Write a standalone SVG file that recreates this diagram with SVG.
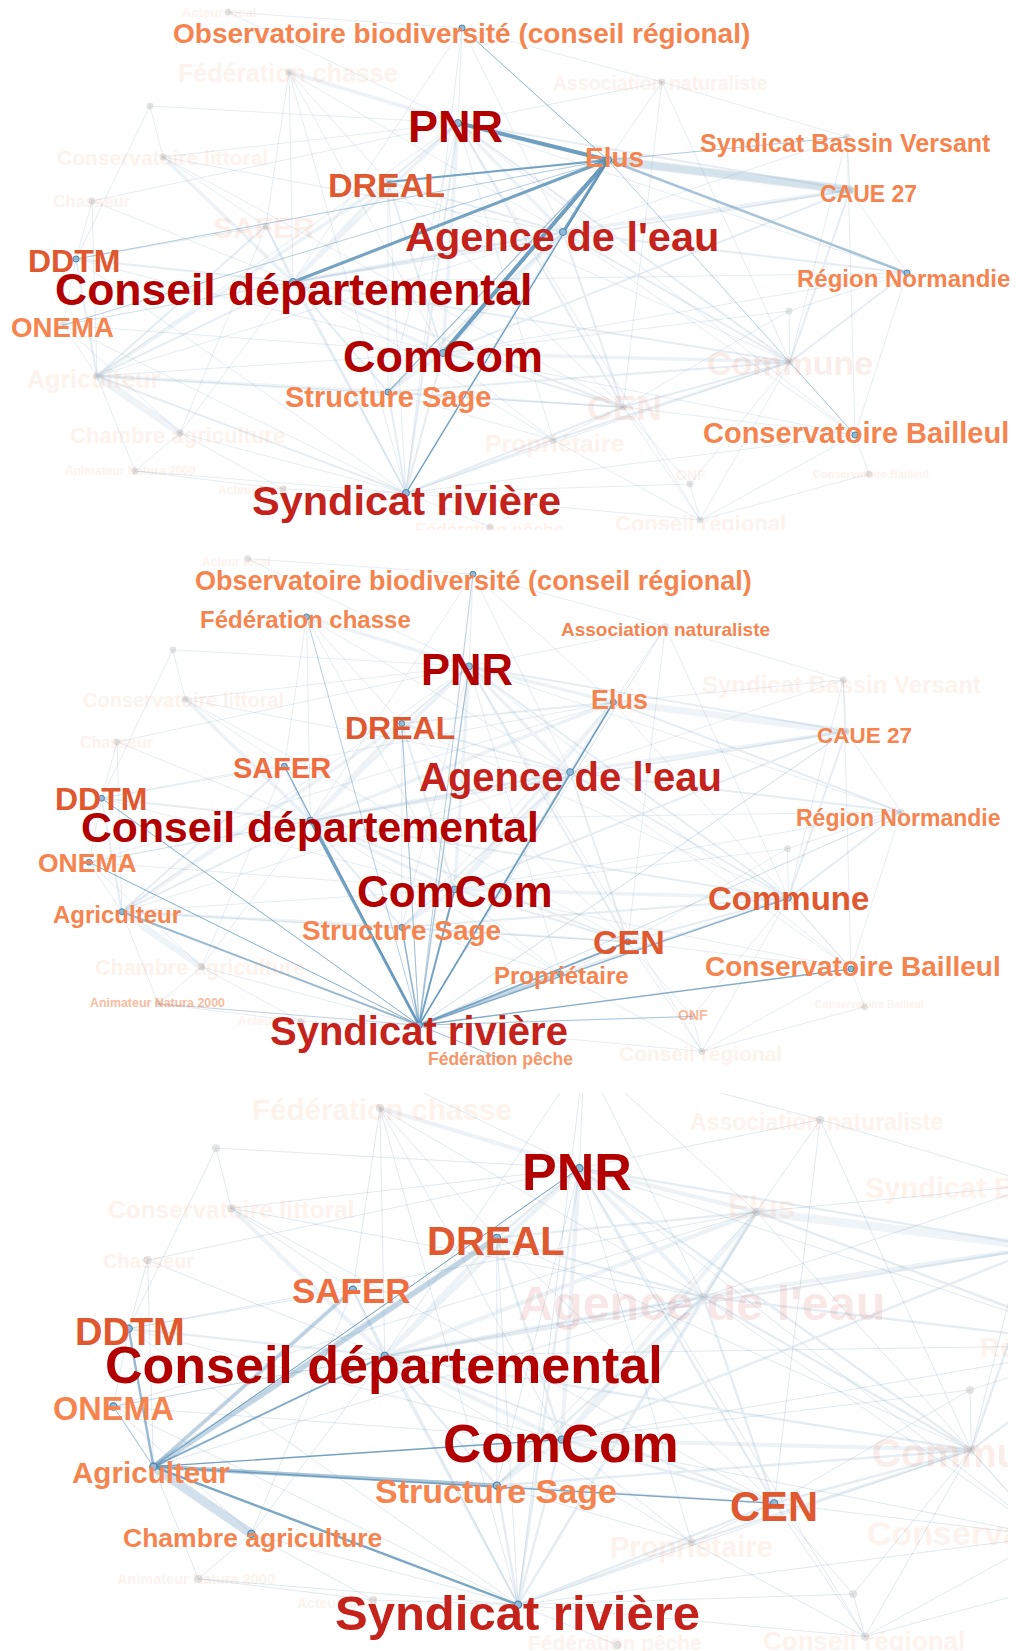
<svg xmlns="http://www.w3.org/2000/svg" xmlns:xlink="http://www.w3.org/1999/xlink" width="1027" height="1651" viewBox="0 0 1027 1651">
<style>
text{font-family:"Liberation Sans",Arial,Helvetica,sans-serif;font-weight:bold}
.o{fill:#f5844f}.s{fill:#ef6d3f}.ro{fill:#e0582f}.r{fill:#c4221b}.dr{fill:#b20000}
.f{opacity:.1}.m{opacity:.55}
.w path{fill:none;stroke:#7fa7c4;stroke-linecap:round}
.e path{fill:none;stroke:#5890b6;stroke-linecap:round}
.nd circle{fill:#c4c4c4;opacity:.45}
.hn circle{fill:#8fbad8;stroke:#4f87ad;stroke-width:1}
</style>
<defs>
<clipPath id="c1"><rect x="0" y="0" width="1027" height="530"/></clipPath>
<clipPath id="c2"><rect x="0" y="538" width="1027" height="534"/></clipPath>
<clipPath id="c3"><rect x="0" y="1093" width="1008" height="558"/></clipPath>
<g id="web" class="w">
<path stroke-width=".7" stroke-opacity=".3" d="M228 12L462 28M228 12L458 123M462 28L662 82M462 28L293 282M462 28L406 493M462 28L563 232M150 106L458 123M150 106L76 259M150 106L163 157M662 82L458 123M662 82L847 137M662 82L623 407M662 82L790 362M662 82L608 160M289 72L293 282M289 72L388 182M289 72L266 226M289 72L563 232M289 72L443 353M289 72L406 493M163 157L458 123M163 157L266 226M163 157L563 232M163 157L623 407M92 201L76 259M92 201L458 123M92 201L97 376M92 201L293 282M847 137L790 362M847 137L855 435M847 137L850 190M847 137L563 232M458 123L907 273M458 123L388 392M458 123L553 440M458 123L97 376M458 123L855 435M458 123L700 520M388 182L406 493M388 182L623 407M388 182L388 392M388 182L790 362M850 190L907 273M266 226L76 259M266 226L406 493M266 226L180 433M563 232L855 435M563 232L97 376M563 232L63 325M76 259L406 493M76 259L63 325M76 259L443 353M907 273L443 353M907 273L293 282M907 273L789 311M907 273L855 435M293 282L63 325M293 282L180 433M293 282L553 440M789 311L790 362M789 311L623 407M789 311L443 353M63 325L406 493M63 325L97 376M63 325L443 353M63 325L180 433M443 353L97 376M443 353L553 440M443 353L855 435M790 362L855 435M790 362L406 493M790 362L700 520M790 362L690 484M97 376L623 407M97 376L135 471M388 392L553 440M623 407L553 440M623 407L700 520M623 407L855 435M623 407L690 484M180 433L406 493M180 433L135 471M180 433L283 489M855 435L406 493M855 435L869 474M855 435L700 520M553 440L700 520M135 471L406 493M135 471L283 489M869 474L700 520M690 484L700 520M690 484L406 493M283 489L406 493M406 493L490 527M406 493L700 520M608 160L76 259M608 160L63 325M608 160L388 392M608 160L855 435M608 160L847 137M608 160L462 28M458 123L462 28"/>
<path stroke-width="2" stroke-opacity=".2" d="M458 123L388 182M458 123L623 407M458 123L790 362M458 123L850 190M458 123L406 493M608 160L388 182M608 160L907 273M608 160L406 493M388 182L563 232M388 182L443 353M850 190L790 362M850 190L293 282M850 190L443 353M266 226L293 282M266 226L97 376M563 232L406 493M563 232L790 362M563 232L623 407M563 232L388 392M563 232L907 273M76 259L293 282M76 259L97 376M907 273L790 362M293 282L406 493M293 282L97 376M293 282L388 392M293 282L790 362M293 282L623 407M443 353L406 493M443 353L623 407M790 362L623 407M790 362L388 392M790 362L553 440M97 376L406 493M388 392L406 493M388 392L623 407M623 407L406 493M553 440L406 493"/>
<path stroke-width="3.5" stroke-opacity=".15" d="M289 72L458 123M458 123L563 232M458 123L293 282M458 123L443 353M458 123L608 160M608 160L563 232M608 160L293 282M608 160L443 353M163 157L293 282M388 182L293 282M388 182L97 376M850 190L563 232M563 232L293 282M563 232L443 353M293 282L443 353M443 353L388 392M443 353L790 362M97 376L388 392"/>
<path stroke-width="7" stroke-opacity=".12" d="M608 160L850 190M97 376L180 433"/>
<g class="nd">
<circle cx="228" cy="12" r="3.5"/><circle cx="462" cy="28" r="3.5"/><circle cx="289" cy="72" r="3.5"/><circle cx="662" cy="82" r="3.5"/><circle cx="150" cy="106" r="3.5"/><circle cx="458" cy="123" r="3.5"/><circle cx="847" cy="137" r="3.5"/><circle cx="608" cy="160" r="3.5"/><circle cx="163" cy="157" r="3.5"/><circle cx="92" cy="201" r="3.5"/><circle cx="388" cy="182" r="3.5"/><circle cx="850" cy="190" r="3.5"/><circle cx="266" cy="226" r="3.5"/><circle cx="563" cy="232" r="3.5"/><circle cx="76" cy="259" r="3.5"/><circle cx="907" cy="273" r="3.5"/><circle cx="293" cy="282" r="3.5"/><circle cx="789" cy="311" r="3.5"/><circle cx="63" cy="325" r="3.5"/><circle cx="443" cy="353" r="3.5"/><circle cx="790" cy="362" r="3.5"/><circle cx="97" cy="376" r="3.5"/><circle cx="388" cy="392" r="3.5"/><circle cx="623" cy="407" r="3.5"/><circle cx="180" cy="433" r="3.5"/><circle cx="855" cy="435" r="3.5"/><circle cx="553" cy="440" r="3.5"/><circle cx="135" cy="471" r="3.5"/><circle cx="869" cy="474" r="3.5"/><circle cx="690" cy="484" r="3.5"/><circle cx="283" cy="489" r="3.5"/><circle cx="406" cy="493" r="3.5"/><circle cx="700" cy="520" r="3.5"/><circle cx="490" cy="527" r="3.5"/>
</g>
</g>
</defs>
<rect width="1027" height="1651" fill="#ffffff"/>

<!-- Panel 1 : Elus -->
<g id="panel1" clip-path="url(#c1)">
<g id="p1-connectors">
<use xlink:href="#web" href="#web"/>
<g class="e">
<path stroke-width="9" stroke-opacity=".18" d="M608 160L850 190"/>
<path stroke-width="2.5" stroke-opacity=".45" d="M608 160L907 273"/>
<path stroke-width="1" stroke-opacity=".35" d="M608 160L847 137"/>
<path stroke-width="1" stroke-opacity=".35" d="M608 160L76 259"/>
<path stroke-width="1" stroke-opacity=".3" d="M608 160L63 325"/>
<path stroke-width="1" stroke-opacity=".3" d="M608 160L855 435"/>
<path stroke-width="1.2" stroke-opacity=".5" d="M608 160L388 392"/>
<path stroke-width="1" stroke-opacity=".6" d="M608 160L462 28"/>
<path stroke-width="4" stroke-opacity=".85" d="M608 160L458 123"/>
<path stroke-width="2" stroke-opacity=".8" d="M608 160L388 182"/>
<path stroke-width="3" stroke-opacity=".8" d="M608 160L293 282"/>
<path stroke-width="3" stroke-opacity=".8" d="M608 160L563 232"/>
<path stroke-width="4" stroke-opacity=".85" d="M608 160L443 353"/>
<path stroke-width="1.3" stroke-opacity=".85" d="M608 160L406 493"/>
</g>
<g class="hn">
<circle cx="462" cy="28" r="3"/><circle cx="458" cy="123" r="3.5"/><circle cx="608" cy="160" r="3.5"/><circle cx="563" cy="232" r="3.5"/><circle cx="293" cy="282" r="3.5"/><circle cx="443" cy="353" r="3.5"/><circle cx="388" cy="392" r="3"/><circle cx="76" cy="259" r="3"/><circle cx="406" cy="493" r="3.5"/><circle cx="855" cy="435" r="3"/><circle cx="907" cy="273" r="3"/>
</g>
</g>
<g id="p1-nodes">
<g id="p1-acteur-local"><text class="o f" x="182" y="17" font-size="13">Acteur local</text></g>
<g id="p1-observatoire"><text class="o" x="173" y="43" font-size="28">Observatoire biodiversité (conseil régional)</text></g>
<g id="p1-federation-chasse"><text class="o f" x="178" y="82" font-size="25">Fédération chasse</text></g>
<g id="p1-association-naturaliste"><text class="o f" x="553" y="90" font-size="19.5">Association naturaliste</text></g>
<g id="p1-pnr"><text class="dr" x="408" y="142" font-size="45">PNR</text></g>
<g id="p1-sbv"><text class="o" x="700" y="152" font-size="25">Syndicat Bassin Versant</text></g>
<g id="p1-conservatoire-littoral"><text class="o f" x="57" y="165" font-size="21">Conservatoire littoral</text></g>
<g id="p1-elus"><text class="o" x="585" y="167" font-size="28">Elus</text></g>
<g id="p1-dreal"><text class="ro" x="328" y="197" font-size="34">DREAL</text></g>
<g id="p1-caue"><text class="o" x="820" y="202" font-size="23">CAUE 27</text></g>
<g id="p1-chasseur"><text class="o f" x="53" y="207" font-size="17">Chasseur</text></g>
<g id="p1-safer"><text class="s f" x="213" y="238" font-size="30">SAFER</text></g>
<g id="p1-agence"><text class="r" x="405" y="251" font-size="41.5">Agence de l'eau</text></g>
<g id="p1-ddtm"><text class="ro" x="28" y="272" font-size="32">DDTM</text></g>
<g id="p1-region"><text class="o" x="797" y="287" font-size="24">Région Normandie</text></g>
<g id="p1-conseil-dep"><text class="dr" x="55" y="305" font-size="44.5">Conseil départemental</text></g>
<g id="p1-onema"><text class="o" x="11" y="337" font-size="27.7">ONEMA</text></g>
<g id="p1-comcom"><text class="dr" x="343" y="372" font-size="45">ComCom</text></g>
<g id="p1-commune"><text class="ro f" x="707" y="375" font-size="34">Commune</text></g>
<g id="p1-agriculteur"><text class="o f" x="27" y="388" font-size="25">Agriculteur</text></g>
<g id="p1-structure-sage"><text class="o" x="285" y="407" font-size="29">Structure Sage</text></g>
<g id="p1-cen"><text class="ro f" x="587" y="420" font-size="35.5">CEN</text></g>
<g id="p1-chambre"><text class="o f" x="70" y="443" font-size="22">Chambre agriculture</text></g>
<g id="p1-bailleul"><text class="o" x="703" y="443" font-size="29">Conservatoire Bailleul</text></g>
<g id="p1-proprietaire"><text class="o f" x="485" y="452" font-size="24.8">Propriétaire</text></g>
<g id="p1-animateur"><text class="o f" x="65" y="475" font-size="12">Animateur Natura 2000</text></g>
<g id="p1-bailleul-2"><text class="o f" x="813" y="478" font-size="11">Conservatoire Bailleul</text></g>
<g id="p1-onf"><text class="o f" x="676" y="480" font-size="14">ONF</text></g>
<g id="p1-acteur-local-2"><text class="o f" x="218" y="494" font-size="12">Acteur local</text></g>
<g id="p1-syndicat-riviere"><text class="r" x="252" y="515" font-size="41.5">Syndicat rivière</text></g>
<g id="p1-conseil-regional"><text class="o f" x="615" y="531" font-size="22">Conseil régional</text></g>
<g id="p1-federation-peche"><text class="o f" x="415" y="536" font-size="18">Fédération pêche</text></g>
</g>
</g>

<!-- Panel 2 : Syndicat rivière -->
<g id="panel2" clip-path="url(#c2)">
<g id="p2-connectors" transform="matrix(0.962 0 0 0.97 28.5 547)">
<use xlink:href="#web" href="#web"/>
<g class="e">
<path stroke-width="4" stroke-opacity=".25" d="M406 493L553 440"/>
<path stroke-width=".8" stroke-opacity=".4" d="M406 493L462 28"/>
<path stroke-width=".8" stroke-opacity=".4" d="M406 493L289 72"/>
<path stroke-width=".8" stroke-opacity=".3" d="M406 493L662 82"/>
<path stroke-width="1" stroke-opacity=".3" d="M406 493L850 190"/>
<path stroke-width="1" stroke-opacity=".3" d="M406 493L907 273"/>
<path stroke-width=".8" stroke-opacity=".35" d="M406 493L135 471"/>
<path stroke-width="1" stroke-opacity=".5" d="M406 493L458 123"/>
<path stroke-width="1" stroke-opacity=".5" d="M406 493L388 182"/>
<path stroke-width="1" stroke-opacity=".5" d="M406 493L563 232"/>
<path stroke-width="1" stroke-opacity=".45" d="M406 493L690 484"/>
<path stroke-width="1" stroke-opacity=".5" d="M406 493L490 527"/>
<path stroke-width="1.2" stroke-opacity=".7" d="M406 493L266 226"/>
<path stroke-width="3" stroke-opacity=".8" d="M406 493L293 282"/>
<path stroke-width="1" stroke-opacity=".65" d="M406 493L76 259"/>
<path stroke-width="1" stroke-opacity=".65" d="M406 493L63 325"/>
<path stroke-width="2" stroke-opacity=".55" d="M406 493L97 376"/>
<path stroke-width="2" stroke-opacity=".8" d="M406 493L443 353"/>
<path stroke-width="1.5" stroke-opacity=".6" d="M406 493L388 392"/>
<path stroke-width="1.5" stroke-opacity=".85" d="M406 493L608 160"/>
<path stroke-width="2" stroke-opacity=".7" d="M406 493L623 407"/>
<path stroke-width="1.5" stroke-opacity=".6" d="M406 493L790 362"/>
<path stroke-width="1.5" stroke-opacity=".7" d="M406 493L855 435"/>
</g>
<g class="hn">
<circle cx="462" cy="28" r="3"/><circle cx="289" cy="72" r="3"/><circle cx="458" cy="123" r="3.5"/><circle cx="608" cy="160" r="3"/><circle cx="388" cy="182" r="3"/><circle cx="266" cy="226" r="3"/><circle cx="563" cy="232" r="3.5"/><circle cx="76" cy="259" r="3"/><circle cx="293" cy="282" r="3.5"/><circle cx="63" cy="325" r="3"/><circle cx="443" cy="353" r="3.5"/><circle cx="790" cy="362" r="3"/><circle cx="97" cy="376" r="3"/><circle cx="388" cy="392" r="3"/><circle cx="623" cy="407" r="3"/><circle cx="855" cy="435" r="3"/><circle cx="553" cy="440" r="3"/><circle cx="406" cy="493" r="3.5"/>
</g>
</g>
<g id="p2-nodes">
<g id="p2-acteur-local"><text class="o f" x="202" y="566" font-size="12">Acteur local</text></g>
<g id="p2-observatoire"><text class="o" x="195" y="590" font-size="27">Observatoire biodiversité (conseil régional)</text></g>
<g id="p2-federation-chasse"><text class="o" x="200" y="628" font-size="24">Fédération chasse</text></g>
<g id="p2-association-naturaliste"><text class="o" x="561" y="636" font-size="19">Association naturaliste</text></g>
<g id="p2-pnr"><text class="dr" x="421" y="685" font-size="43.5">PNR</text></g>
<g id="p2-sbv"><text class="o f" x="702" y="693" font-size="24">Syndicat Bassin Versant</text></g>
<g id="p2-conservatoire-littoral"><text class="o f" x="83" y="707" font-size="20">Conservatoire littoral</text></g>
<g id="p2-elus"><text class="o" x="591" y="709" font-size="27">Elus</text></g>
<g id="p2-dreal"><text class="ro" x="345" y="739" font-size="32">DREAL</text></g>
<g id="p2-caue"><text class="o" x="817" y="743" font-size="22.5">CAUE 27</text></g>
<g id="p2-chasseur"><text class="o f" x="80" y="748" font-size="16">Chasseur</text></g>
<g id="p2-safer"><text class="s" x="233" y="778" font-size="29">SAFER</text></g>
<g id="p2-agence"><text class="r" x="419" y="791" font-size="40">Agence de l'eau</text></g>
<g id="p2-ddtm"><text class="ro" x="55" y="810" font-size="32">DDTM</text></g>
<g id="p2-region"><text class="o" x="796" y="826" font-size="23">Région Normandie</text></g>
<g id="p2-conseil-dep"><text class="dr" x="81" y="842" font-size="42.7">Conseil départemental</text></g>
<g id="p2-onema"><text class="o" x="38" y="872" font-size="26.5">ONEMA</text></g>
<g id="p2-comcom"><text class="dr" x="357" y="907" font-size="44">ComCom</text></g>
<g id="p2-commune"><text class="ro" x="708" y="910" font-size="33">Commune</text></g>
<g id="p2-agriculteur"><text class="o" x="53" y="923" font-size="24">Agriculteur</text></g>
<g id="p2-structure-sage"><text class="o" x="302" y="940" font-size="28">Structure Sage</text></g>
<g id="p2-cen"><text class="ro" x="593" y="954" font-size="34">CEN</text></g>
<g id="p2-chambre"><text class="o f" x="95" y="975" font-size="21.5">Chambre agriculture</text></g>
<g id="p2-bailleul"><text class="o" x="705" y="976" font-size="28">Conservatoire Bailleul</text></g>
<g id="p2-proprietaire"><text class="o" x="494" y="984" font-size="24">Propriétaire</text></g>
<g id="p2-animateur"><text class="o m" x="90" y="1007" font-size="12.4">Animateur Natura 2000</text></g>
<g id="p2-bailleul-2"><text class="o f" x="815" y="1008" font-size="10.3">Conservatoire Bailleul</text></g>
<g id="p2-onf"><text class="o m" x="678" y="1020" font-size="14">ONF</text></g>
<g id="p2-acteur-local-2"><text class="o f" x="238" y="1025" font-size="12">Acteur local</text></g>
<g id="p2-syndicat-riviere"><text class="r" x="270" y="1045" font-size="40">Syndicat rivière</text></g>
<g id="p2-conseil-regional"><text class="o f" x="619" y="1061" font-size="21">Conseil régional</text></g>
<g id="p2-federation-peche"><text class="o" x="428" y="1065" font-size="17.5" opacity=".85">Fédération pêche</text></g>
</g>
</g>

<!-- Panel 3 : Agriculteur -->
<g id="panel3" clip-path="url(#c3)">
<g id="p3-connectors" transform="matrix(1.18 0 0 1.18 39 1023)">
<use xlink:href="#web" href="#web"/>
<g class="e">
<path stroke-width="8" stroke-opacity=".2" d="M97 376L180 433"/>
<path stroke-width="5" stroke-opacity=".3" d="M97 376L388 182"/>
<path stroke-width="3.5" stroke-opacity=".3" d="M97 376L266 226"/>
<path stroke-width="3.5" stroke-opacity=".45" d="M97 376L388 392"/>
<path stroke-width=".8" stroke-opacity=".85" d="M97 376L458 123"/>
<path stroke-width="1.5" stroke-opacity=".7" d="M97 376L293 282"/>
<path stroke-width="2" stroke-opacity=".55" d="M97 376L76 259"/>
<path stroke-width=".8" stroke-opacity=".5" d="M97 376L63 325"/>
<path stroke-width="1.1" stroke-opacity=".8" d="M97 376L443 353"/>
<path stroke-width="1.2" stroke-opacity=".7" d="M97 376L623 407"/>
<path stroke-width="2" stroke-opacity=".75" d="M97 376L406 493"/>
</g>
<g class="hn">
<circle cx="458" cy="123" r="3"/><circle cx="388" cy="182" r="3"/><circle cx="266" cy="226" r="3"/><circle cx="76" cy="259" r="3"/><circle cx="293" cy="282" r="3"/><circle cx="63" cy="325" r="3"/><circle cx="97" cy="376" r="3"/><circle cx="443" cy="353" r="3"/><circle cx="388" cy="392" r="3"/><circle cx="623" cy="407" r="3"/><circle cx="180" cy="433" r="3"/><circle cx="406" cy="493" r="3"/>
</g>
</g>
<g id="p3-nodes">
<g id="p3-federation-chasse"><text class="o f" x="252" y="1120" font-size="29.6">Fédération chasse</text></g>
<g id="p3-association-naturaliste"><text class="o f" x="690" y="1130" font-size="23">Association naturaliste</text></g>
<g id="p3-pnr"><text class="dr" x="522" y="1190" font-size="52">PNR</text></g>
<g id="p3-sbv"><text class="o f" x="865" y="1198" font-size="29">Syndicat Bassin Versant</text></g>
<g id="p3-conservatoire-littoral"><text class="o f" x="108" y="1218" font-size="24.5">Conservatoire littoral</text></g>
<g id="p3-elus"><text class="o f" x="728" y="1218" font-size="32">Elus</text></g>
<g id="p3-dreal"><text class="ro" x="427" y="1255" font-size="40">DREAL</text></g>
<g id="p3-chasseur"><text class="o f" x="103" y="1268" font-size="20">Chasseur</text></g>
<g id="p3-safer"><text class="s" x="292" y="1303" font-size="35">SAFER</text></g>
<g id="p3-agence"><text class="r f" x="518" y="1320" font-size="48.5">Agence de l'eau</text></g>
<g id="p3-ddtm"><text class="ro" x="75" y="1345" font-size="38">DDTM</text></g>
<g id="p3-region"><text class="o f" x="980" y="1357" font-size="28">Région Normandie</text></g>
<g id="p3-conseil-dep"><text class="dr" x="105" y="1383" font-size="52">Conseil départemental</text></g>
<g id="p3-onema"><text class="o" x="53" y="1420" font-size="32.5">ONEMA</text></g>
<g id="p3-comcom"><text class="dr" x="443" y="1462" font-size="53">ComCom</text></g>
<g id="p3-commune"><text class="ro f" x="872" y="1467" font-size="40">Commune</text></g>
<g id="p3-agriculteur"><text class="o" x="72" y="1483" font-size="29.6">Agriculteur</text></g>
<g id="p3-structure-sage"><text class="o" x="375" y="1503" font-size="34">Structure Sage</text></g>
<g id="p3-cen"><text class="ro" x="730" y="1521" font-size="41.7">CEN</text></g>
<g id="p3-bailleul"><text class="o f" x="867" y="1545" font-size="34">Conservatoire Bailleul</text></g>
<g id="p3-chambre"><text class="o" x="123" y="1547" font-size="26.5">Chambre agriculture</text></g>
<g id="p3-proprietaire"><text class="o f" x="610" y="1557" font-size="29">Propriétaire</text></g>
<g id="p3-animateur"><text class="o f" x="117" y="1584" font-size="14.5">Animateur Natura 2000</text></g>
<g id="p3-acteur-local"><text class="o f" x="297" y="1608" font-size="14">Acteur local</text></g>
<g id="p3-syndicat-riviere"><text class="r" x="335" y="1630" font-size="49">Syndicat rivière</text></g>
<g id="p3-federation-peche"><text class="o f" x="528" y="1650" font-size="21">Fédération pêche</text></g>
<g id="p3-conseil-regional"><text class="o f" x="763" y="1650" font-size="26">Conseil régional</text></g>
</g>
</g>
</svg>
